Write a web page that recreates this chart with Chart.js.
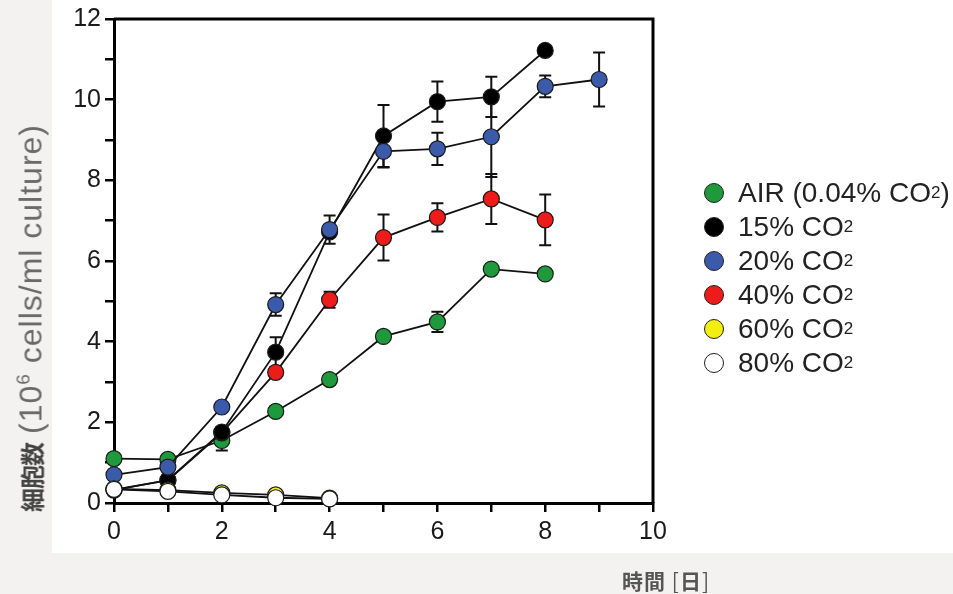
<!DOCTYPE html>
<html>
<head>
<meta charset="utf-8">
<script src="https://cdn.jsdelivr.net/npm/chart.js@4.4.1/dist/chart.umd.min.js"></script>
<style>
  html, body { margin: 0; padding: 0; }
  body { width: 953px; height: 594px; background: #f3f2f0; position: relative; overflow: hidden; font-family: "Liberation Sans", Arial, sans-serif; }
  #paper { position: absolute; left: 52px; top: 0; width: 901px; height: 553px; background: #fff; }
  #cellChart { position: absolute; left: 0; top: 0; }
  #yTitle { position: absolute; left: 31px; top: 318px; transform: translate(-50%, -50%) rotate(-90deg); white-space: nowrap; color: #6a6a6a; font-size: 32px; letter-spacing: 1px; }
  #yTitle b { font-family: "Noto Sans CJK JP", sans-serif; font-weight: 700; color: #444; font-size: 24px; margin-right: 9px; letter-spacing: -1px; }
  #yTitle sup { font-size: 19px; }
  #xTitle { position: absolute; left: 622px; top: 565px; font-family: "Noto Sans CJK JP", sans-serif; font-size: 21px; color: #555; font-weight: 700; white-space: nowrap; letter-spacing: 1px; }
  #xTitle span { font-weight: 400; }
  #legend { position: absolute; left: 704px; top: 176px; }
  .row { height: 34px; display: flex; align-items: center; font-size: 28px; color: #222; white-space: nowrap; }
  .dot { width: 20px; height: 20px; border-radius: 50%; border: 1.5px solid #222; margin-right: 14px; box-sizing: border-box; flex: none; }
  .row sub { font-size: 17px; vertical-align: -4px; }
</style>
</head>
<body>
<div id="paper"></div>
<canvas id="cellChart" width="953" height="594"></canvas>
<div id="yTitle"><b>細胞数</b>(10<sup>6</sup> cells/ml culture)</div>
<div id="xTitle">時間 <span>[</span>日<span>]</span></div>
<div id="legend"></div>

<script>
// days of culture
const days = [0, 1, 2, 3, 4, 5, 6, 7, 8, 9];

// cell counts (10^6 cells/ml) and error bars
const airValues = [1.1, 1.08, 1.55, 2.27, 3.06, 4.13, 4.49, 5.8, 5.68];
const airErrors = [0, 0, 0.25, 0, 0.1, 0, 0.25, 0, 0];
const co2_15Values = [0.32, 0.57, 1.76, 3.74, 6.72, 9.1, 9.95, 10.07, 11.22];
const co2_15Errors = [0, 0, 0, 0.37, 0, 0.77, 0.5, 0.5, 0];
const co2_20Values = [0.7, 0.89, 2.38, 4.92, 6.78, 8.72, 8.78, 9.08, 10.33, 10.5];
const co2_20Errors = [0, 0, 0.1, 0.28, 0.35, 0.4, 0.4, 1.0, 0.27, 0.67];
const co2_40Values = [0.33, 0.56, 1.74, 3.24, 5.04, 6.58, 7.08, 7.54, 7.02];
const co2_40Errors = [0, 0, 0, 0, 0.2, 0.57, 0.35, 0.62, 0.63];
const co2_60Values = [0.35, 0.32, 0.25, 0.2, 0.12];
const co2_80Values = [0.34, 0.29, 0.2, 0.13, 0.1];

const xTicks = [0, 2, 4, 6, 8, 10];
const yTicks = [0, 2, 4, 6, 8, 10, 12];

const seriesLabels = ['AIR (0.04% CO|2|)', '15% CO|2|', '20% CO|2|', '40% CO|2|', '60% CO|2|', '80% CO|2|'];
const seriesColors = ['#1e9a3c', '#000000', '#3b5aa9', '#ee1b1b', '#f2ee12', '#ffffff'];
const seriesValues = [airValues, co2_15Values, co2_20Values, co2_40Values, co2_60Values, co2_80Values];
const seriesErrors = [airErrors, co2_15Errors, co2_20Errors, co2_40Errors, [], []];
const drawOrder = [6, 4, 3, 5, 2, 1];

function toPoints(values) {
    return values.map(function (v, i) { return { x: days[i], y: v }; });
}

const datasets = seriesValues.map(function (values, i) {
    return {
        label: seriesLabels[i].replace(/\|/g, ''),
        data: toPoints(values),
        errors: seriesErrors[i],
        order: drawOrder[i],
        borderColor: '#111',
        borderWidth: 1.8,
        pointRadius: 8,
        pointHoverRadius: 8,
        pointBackgroundColor: seriesColors[i],
        pointBorderColor: '#1a1a1a',
        pointBorderWidth: 1.2,
        clip: false,
        tension: 0
    };
});

// error bars, drawn under the markers
const errorBars = {
    id: 'errorBars',
    beforeDatasetsDraw(chart) {
        const ctx = chart.ctx;
        const xs = chart.scales.x, ys = chart.scales.y;
        ctx.save();
        ctx.strokeStyle = '#111';
        ctx.lineWidth = 2;
        chart.data.datasets.forEach(function (ds) {
            (ds.errors || []).forEach(function (e, i) {
                if (!e) return;
                const p = ds.data[i];
                const x = xs.getPixelForValue(p.x);
                const yTop = ys.getPixelForValue(p.y + e);
                const yBot = ys.getPixelForValue(p.y - e);
                ctx.beginPath();
                ctx.moveTo(x, yTop); ctx.lineTo(x, yBot);
                ctx.moveTo(x - 6, yTop); ctx.lineTo(x + 6, yTop);
                ctx.moveTo(x - 6, yBot); ctx.lineTo(x + 6, yBot);
                ctx.stroke();
            });
        });
        ctx.restore();
    }
};

// top and right side of the box
const frame = {
    id: 'frame',
    beforeDatasetsDraw(chart) {
        const a = chart.chartArea, ctx = chart.ctx;
        ctx.save();
        ctx.strokeStyle = '#000';
        ctx.lineWidth = 3;
        ctx.beginPath();
        ctx.moveTo(a.left, a.top);
        ctx.lineTo(a.right, a.top);
        ctx.lineTo(a.right, a.bottom);
        ctx.stroke();
        ctx.restore();
    }
};

const tickFont = { family: '"Liberation Sans", Arial, sans-serif', size: 25 };

new Chart(document.getElementById('cellChart'), {
    type: 'line',
    data: { datasets: datasets },
    plugins: [errorBars, frame],
    options: {
        responsive: false,
        animation: false,
        events: [],
        layout: { padding: { left: 0, top: 19, right: 300, bottom: 51 } },
        plugins: {
            legend: { display: false },
            tooltip: { enabled: false }
        },
        scales: {
            x: {
                type: 'linear',
                min: 0,
                max: 10,
                afterFit: function (s) { s.height = 40; },
                ticks: {
                    stepSize: 1,
                    autoSkip: false,
                    maxRotation: 0,
                    padding: 5,
                    color: '#1a1a1a',
                    font: tickFont,
                    callback: function (v) { return xTicks.includes(v) ? String(v) : ''; }
                },
                grid: { drawOnChartArea: false, tickLength: 9, lineWidth: 2.5, tickColor: '#000' },
                border: { display: true, color: '#000', width: 3 }
            },
            y: {
                min: 0,
                max: 12,
                afterFit: function (s) { s.width = 114; },
                ticks: {
                    stepSize: 1,
                    autoSkip: false,
                    padding: 4,
                    color: '#1a1a1a',
                    font: tickFont,
                    callback: function (v) { return yTicks.includes(v) ? String(v) : ''; }
                },
                grid: { drawOnChartArea: false, tickLength: 9, lineWidth: 2.5, tickColor: '#000' },
                border: { display: true, color: '#000', width: 3 }
            }
        }
    }
});

// legend with real subscripts
const legend = document.getElementById('legend');
seriesLabels.forEach(function (lab, i) {
    const parts = lab.split('|');
    const row = document.createElement('div');
    row.className = 'row';
    row.innerHTML = '<div class="dot" style="background:' + seriesColors[i] + '"></div>' +
        parts[0] + '<sub>' + parts[1] + '</sub>' + (parts[2] || '');
    legend.appendChild(row);
});
</script>
</body>
</html>
